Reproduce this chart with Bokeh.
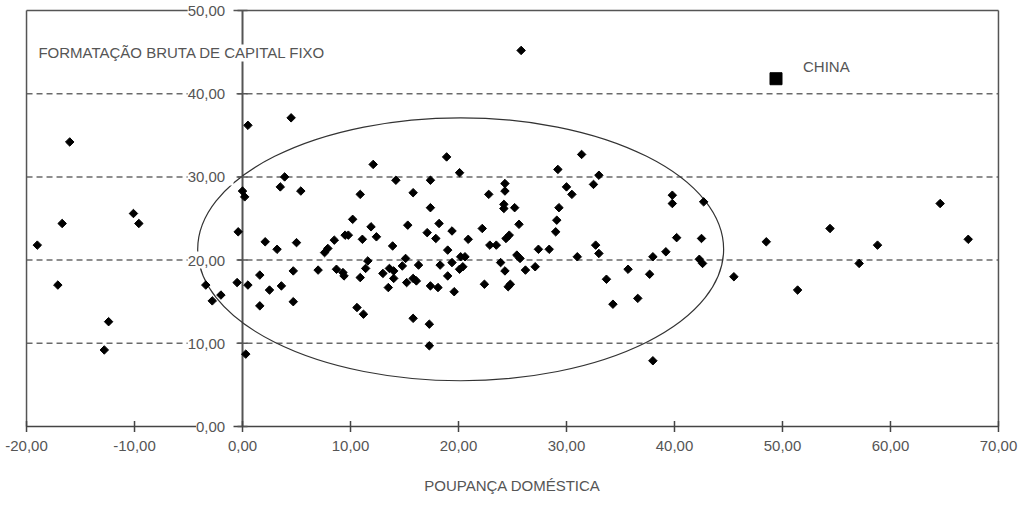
from bokeh.plotting import figure
from bokeh.models import Label
from bokeh.embed import file_html
from bokeh.resources import INLINE
import math

# ---- data ----
poupanca = [-19.0, -16.7, -17.1, -16.0, -10.1, -9.6, -12.4, -12.8, -1.4, -3.4,
            -2.8, -2.0, -0.5, -0.4, 0.0, 0.2, 0.5, 0.3, 1.6, 2.1,
            2.5, 1.6, 3.2, 3.6, 3.5, 3.9, 0.5, 4.5, 12.1, 5.4,
            5.0, 4.7, 4.7, 7.0, 7.9, 7.6, 8.5, 9.5, 9.8, 10.2,
            10.9, 11.1, 8.7, 9.3, 9.4, 10.9, 11.6, 11.4, 10.6, 11.2,
            11.9, 12.4, 13.9, 13.0, 13.6, 14.0, 14.0, 13.5, 14.2, 15.8,
            15.3, 15.1, 14.8, 15.2, 15.8, 16.1, 16.3, 15.8, 17.3, 17.3,
            17.4, 17.4, 17.1, 17.9, 18.2, 18.3, 17.4, 18.1, 18.9, 19.4,
            19.0, 19.4, 19.0, 19.6, 20.1, 20.2, 20.6, 20.1, 20.4, 20.9,
            22.2, 22.8, 22.9, 23.5, 22.4, 24.3, 24.3, 24.2, 24.2, 25.2,
            25.6, 24.4, 24.7, 23.9, 24.3, 24.6, 24.8, 25.4, 25.7, 26.2,
            27.1, 27.4, 28.4, 29.2, 29.3, 29.1, 29.0, 30.0, 30.5, 31.4,
            31.0, 32.5, 33.0, 32.7, 33.0, 33.7, 34.3, 35.7, 36.6, 37.7,
            38.0, 39.2, 40.2, 39.8, 39.8, 42.7, 42.5, 42.3, 42.6, 45.5,
            38.0, 48.5, 51.4, 54.4, 57.1, 58.8, 64.6, 67.2, 25.8]
formacao = [21.8, 24.4, 17.0, 34.2, 25.6, 24.4, 12.6, 9.2, 20.2, 17.0,
            15.1, 15.8, 17.3, 23.4, 28.3, 27.6, 17.0, 8.7, 18.2, 22.2,
            16.4, 14.5, 21.3, 16.9, 28.8, 30.0, 36.2, 37.1, 31.5, 28.3,
            22.1, 18.7, 15.0, 18.8, 21.4, 20.9, 22.4, 23.0, 23.0, 24.9,
            27.9, 22.5, 18.9, 18.5, 18.1, 17.9, 19.9, 19.0, 14.3, 13.5,
            24.0, 22.8, 21.7, 18.4, 19.0, 18.7, 17.8, 16.7, 29.6, 28.1,
            24.2, 20.2, 19.3, 17.3, 17.8, 17.5, 19.4, 13.0, 12.3, 9.7,
            29.6, 26.3, 23.3, 22.6, 24.4, 19.4, 16.9, 16.7, 32.4, 23.5,
            21.2, 19.7, 18.1, 16.2, 30.5, 20.4, 20.4, 18.9, 19.2, 22.5,
            23.8, 27.9, 21.8, 21.8, 17.1, 29.2, 28.3, 26.7, 26.2, 26.3,
            24.3, 22.6, 23.0, 19.7, 18.7, 16.8, 17.1, 20.6, 20.2, 18.8,
            19.2, 21.3, 21.3, 30.9, 26.3, 24.8, 23.4, 28.8, 27.9, 32.7,
            20.4, 29.1, 30.2, 21.8, 20.8, 17.7, 14.7, 18.9, 15.4, 18.3,
            20.4, 21.0, 22.7, 27.8, 26.8, 27.0, 22.6, 20.1, 19.6, 18.0,
            7.9, 22.2, 16.4, 23.8, 19.6, 21.8, 26.8, 22.5, 45.2]

china_x = [49.4]
china_y = [41.8]
china_label = "CHINA"

ellipse_x = [20.2]
ellipse_y = [21.3]
ellipse_w = [48.7]
ellipse_h = [31.6]

x_ticks = [-20, -10, 0, 10, 20, 30, 40, 50, 60, 70]
y_ticks = [0, 10, 20, 30, 40, 50]
grid_ticks = [10, 20, 30, 40]

x_title = "POUPANÇA DOMÉSTICA"
y_title = "FORMATAÇÃO BRUTA DE CAPITAL FIXO"


def fmt(v):
    return f"{v:.2f}".replace(".", ",")


FONT = "Liberation Sans"
TXT = "#555555"
LINE = "#555555"
FS = "15px"

xmin, xmax = x_ticks[0], x_ticks[-1]
ymin, ymax = y_ticks[0], y_ticks[-1]

# frame fills the whole canvas; the chart box is drawn from the tick extremes
p = figure(width=1020, height=495,
           x_range=(-22.41, 72.04), y_range=(-8.293, 51.202),
           output_backend="svg", toolbar_location=None, tools="",
           x_axis_location=None, y_axis_location=None,
           min_border=0)
p.outline_line_color = None
p.xgrid.visible = False
p.ygrid.visible = False
p.background_fill_color = "white"
p.border_fill_color = "white"

# dashed horizontal grid lines
p.multi_line(xs=[[xmin, xmax] for _ in grid_ticks], ys=[[g, g] for g in grid_ticks],
             line_color="#6a6a6a", line_width=1.5, line_dash="6 4")

# box: top, left, right edges and bottom axis
p.multi_line(xs=[[xmin, xmax], [xmin, xmin], [xmax, xmax]],
             ys=[[ymax, ymax], [ymin, ymax], [ymin, ymax]],
             line_color=LINE, line_width=1.5)
p.line(x=[xmin, xmax], y=[ymin, ymin], line_color="#444444", line_width=1.5)

# vertical axis at x = 0
p.line(x=[0, 0], y=[ymin, ymax], line_color=LINE, line_width=2)

# ellipse
p.ellipse(x=ellipse_x, y=ellipse_y, width=ellipse_w, height=ellipse_h,
          fill_color=None, line_color="#333333", line_width=1.2)

# tick marks
p.scatter(x=[0] * len(y_ticks), y=y_ticks, marker="dash", size=10,
          line_color=LINE, line_width=1.5)
p.scatter(x=x_ticks, y=[ymin] * len(x_ticks), marker="dash", angle=math.pi / 2,
          size=11, line_color="#444444", line_width=1.5)

# points
p.scatter(x=poupanca, y=formacao, marker="square", angle=math.pi / 4, size=6,
          fill_color="black", line_color="black")
p.scatter(x=china_x, y=china_y, marker="square", size=12,
          fill_color="black", line_color="black")

# y tick labels with white background (break the lines)
for t in y_ticks:
    p.add_layout(Label(x=0, y=t, text=" " + fmt(t) + " ", x_offset=-9,
                       text_align="right", text_baseline="middle",
                       background_fill_color="white",
                       text_font=FONT, text_font_size=FS, text_color=TXT))

# x tick labels
for t in x_ticks:
    p.add_layout(Label(x=t, y=ymin, text=fmt(t), y_offset=-19,
                       text_align="center", text_baseline="middle",
                       text_font=FONT, text_font_size=FS, text_color=TXT))

# axis titles
p.add_layout(Label(x=(xmin + xmax) / 2, y=ymin, text=x_title, y_offset=-59,
                   text_align="center", text_baseline="middle",
                   text_font=FONT, text_font_size=FS, text_color=TXT))
p.add_layout(Label(x=-18.9, y=44.9, text=" " + y_title + " ",
                   text_align="left", text_baseline="middle",
                   background_fill_color="white",
                   text_font=FONT, text_font_size=FS, text_color=TXT))

p.add_layout(Label(x=51.9, y=43.3, text=china_label,
                   text_align="left", text_baseline="middle",
                   text_font=FONT, text_font_size=FS, text_color=TXT))

open("out.html", "w").write(file_html(p, INLINE))
